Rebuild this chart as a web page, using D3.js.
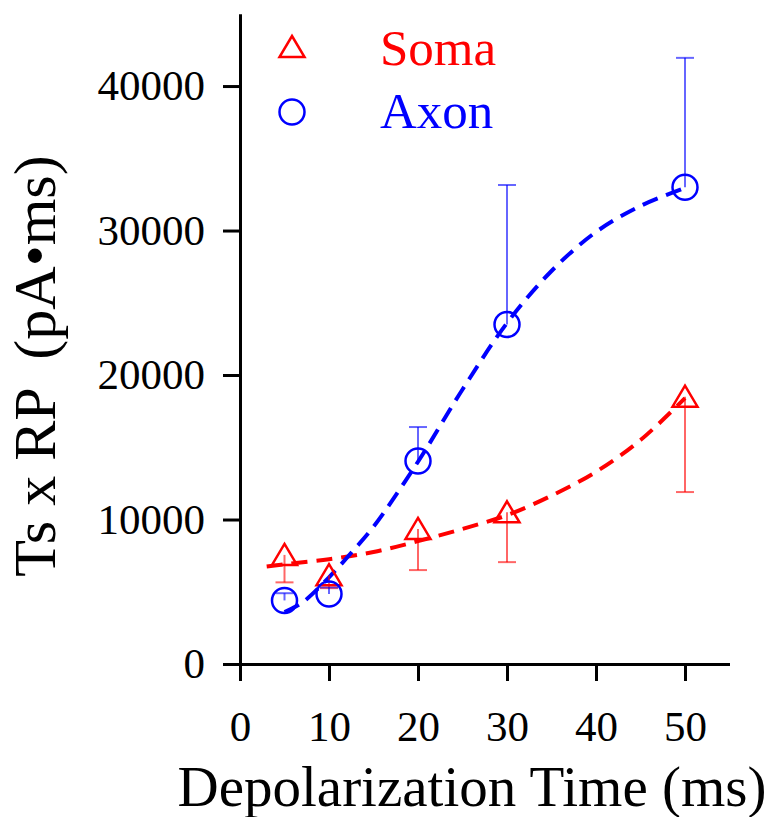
<!DOCTYPE html>
<html>
<head>
<meta charset="utf-8">
<script src="https://cdn.jsdelivr.net/npm/d3@7"></script>
<style>
  body { margin: 0; background: #fff; }
  svg text { font-family: "Liberation Serif", "Times New Roman", serif; fill: #000; }
</style>
</head>
<body>
<div class="chart"></div>
<script>
// measured means and error bars (soma bars go down, axon bars go up)
const times = [5, 10, 20, 30, 50];
const somaMean = [7550, 6150, 9350, 10500, 18500];
const somaErr = [1900, 900, 2850, 3450, 6600];
const axonMean = [4400, 4850, 14050, 23500, 33000];
const axonErr = [500, 450, 2350, 9650, 8950];

// fitted curves
const somaFitX = [3, 5, 10, 15, 20, 25, 30, 35, 40, 45, 50];
const somaFitY = [6750, 6900, 7250, 7750, 8500, 9350, 10300, 11650, 13300, 15500, 18400];
const axonFitX = [5, 7, 10, 12.5, 15, 20, 25, 30, 35, 40, 45, 50];
const axonFitY = [3600, 4250, 6000, 7700, 9500, 14000, 19000, 23600, 27200, 29900, 31700, 32950];

const xTicks = [0, 10, 20, 30, 40, 50];
const yTicks = [0, 10000, 20000, 30000, 40000];

const RED = "#ff0000";
const BLUE = "#0000ff";

const svg = d3.select(".chart").append("svg")
    .attr("width", 772)
    .attr("height", 817);

const x = d3.scaleLinear().domain([0, 55]).range([240, 729.5]);
const y = d3.scaleLinear().domain([0, 45000]).range([664, 13.8]);

// axes
const xAxis = svg.append("g")
    .attr("transform", "translate(0,664)")
    .call(d3.axisBottom(x).tickValues(xTicks).tickSize(17).tickSizeOuter(0).tickPadding(29));
const yAxis = svg.append("g")
    .attr("transform", "translate(240,0)")
    .call(d3.axisLeft(y).tickValues(yTicks).tickSize(17).tickSizeOuter(0).tickPadding(18).tickFormat(d3.format("d")));

[xAxis, yAxis].forEach(g => {
    g.select(".domain").attr("stroke", "#000").attr("stroke-width", 3);
    g.selectAll(".tick line").attr("stroke", "#000").attr("stroke-width", 3);
    g.selectAll(".tick text").attr("font-size", 43).attr("font-family", null).attr("fill", "#000");
});

// fitted dashed lines
const line = d3.line()
    .x(d => x(d[0]))
    .y(d => y(d[1]))
    .curve(d3.curveCatmullRom);

svg.append("path")
    .datum(d3.zip(somaFitX, somaFitY))
    .attr("d", line)
    .attr("fill", "none")
    .attr("stroke", RED)
    .attr("stroke-width", 4)
    .attr("stroke-dasharray", "16,9");

svg.append("path")
    .datum(d3.zip(axonFitX, axonFitY))
    .attr("d", line)
    .attr("fill", "none")
    .attr("stroke", BLUE)
    .attr("stroke-width", 4)
    .attr("stroke-dasharray", "16,9");

// error bars
function errorBars(means, errs, dir, color) {
    const g = svg.append("g")
        .attr("stroke", color)
        .attr("stroke-width", 2)
        .attr("stroke-opacity", 0.6);
    const data = d3.zip(times, means, errs);
    g.selectAll("line.v")
        .data(data)
        .enter().append("line")
        .attr("class", "v")
        .attr("x1", d => x(d[0]))
        .attr("x2", d => x(d[0]))
        .attr("y1", d => y(d[1]))
        .attr("y2", d => y(d[1] + dir * d[2]));
    g.selectAll("line.cap")
        .data(data)
        .enter().append("line")
        .attr("class", "cap")
        .attr("x1", d => x(d[0]) - 9)
        .attr("x2", d => x(d[0]) + 9)
        .attr("y1", d => y(d[1] + dir * d[2]))
        .attr("y2", d => y(d[1] + dir * d[2]));
}
errorBars(somaMean, somaErr, -1, RED);
errorBars(axonMean, axonErr, 1, BLUE);

// markers
const tri = "M0,-11L12.5,10L-12.5,10Z";

svg.selectAll("path.soma")
    .data(d3.zip(times, somaMean))
    .enter().append("path")
    .attr("class", "soma")
    .attr("d", tri)
    .attr("transform", d => `translate(${x(d[0])},${y(d[1])})`)
    .attr("fill", "none")
    .attr("stroke", RED)
    .attr("stroke-width", 2.5);

svg.selectAll("circle.axon")
    .data(d3.zip(times, axonMean))
    .enter().append("circle")
    .attr("class", "axon")
    .attr("cx", d => x(d[0]))
    .attr("cy", d => y(d[1]))
    .attr("r", 12.5)
    .attr("fill", "none")
    .attr("stroke", BLUE)
    .attr("stroke-width", 2.5);

// legend
svg.append("path")
    .attr("d", tri)
    .attr("transform", "translate(292,47)")
    .attr("fill", "none")
    .attr("stroke", RED)
    .attr("stroke-width", 2.5);
svg.append("text")
    .attr("x", 380).attr("y", 65)
    .attr("font-size", 51)
    .style("fill", RED)
    .text("Soma");

svg.append("circle")
    .attr("cx", 292).attr("cy", 112)
    .attr("r", 12.5)
    .attr("fill", "none")
    .attr("stroke", BLUE)
    .attr("stroke-width", 2.5);
svg.append("text")
    .attr("x", 380).attr("y", 128)
    .attr("font-size", 51)
    .style("fill", BLUE)
    .text("Axon");

// axis titles
svg.append("text")
    .attr("x", 472).attr("y", 806)
    .attr("text-anchor", "middle")
    .attr("font-size", 57)
    .text("Depolarization Time (ms)");

svg.append("text")
    .attr("transform", "translate(55,366) rotate(-90)")
    .attr("text-anchor", "middle")
    .attr("font-size", 60)
    .style("white-space", "pre")
    .text("Ts x RP  (pA•ms)");
</script>
</body>
</html>
